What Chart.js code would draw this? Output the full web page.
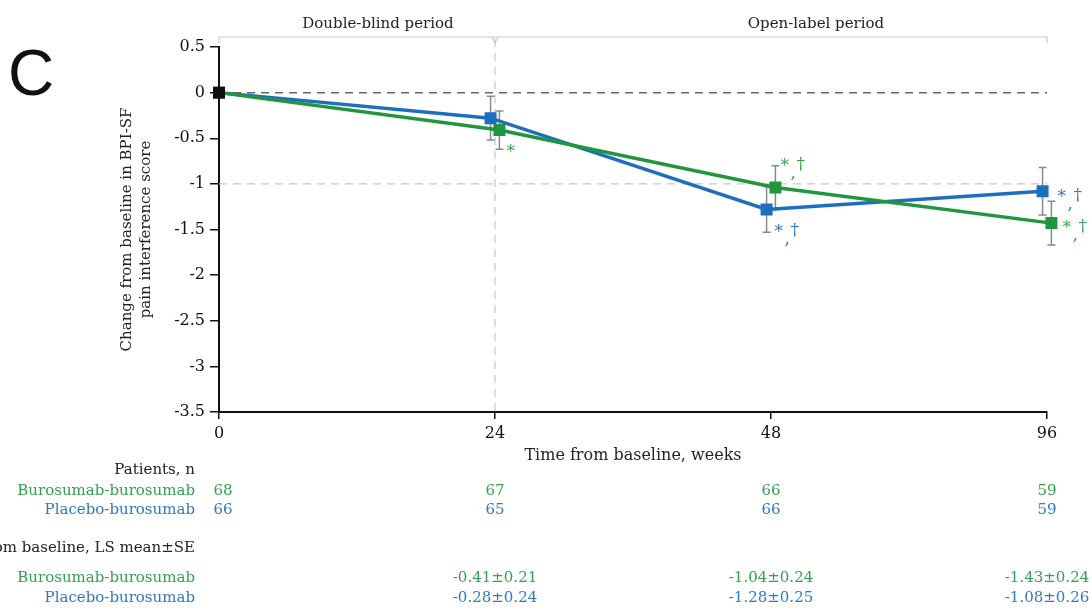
<!DOCTYPE html>
<html>
<head>
<meta charset="utf-8">
<script src="https://cdn.jsdelivr.net/npm/chart.js@4/dist/chart.umd.min.js"></script>
<style>
  html, body { margin: 0; padding: 0; background: #fff; }
  #wrap { position: relative; width: 1092px; height: 608px; }
</style>
</head>
<body>
<div id="wrap"><canvas id="painChart"></canvas></div>
<script>
'use strict';

// --- data ---
const WEEK_LABELS = ['0', '24', '48', '96'];
const BURO_MEAN = [0, -0.41, -1.04, -1.43];
const BURO_SE = [0, 0.21, 0.24, 0.24];
const PLAC_MEAN = [0, -0.28, -1.28, -1.08];
const PLAC_SE = [0, 0.24, 0.25, 0.26];
const BURO_N = [68, 67, 66, 59];
const PLAC_N = [66, 65, 66, 59];
const Y_MIN = -3.5;
const Y_MAX = 0.5;
const Y_STEP = 0.5;
const PERIODS = ['Double-blind period', 'Open-label period'];

const GREEN = 'rgb(34, 150, 62)';
const BLUE = 'rgb(30, 110, 190)';
const GREEN_TXT = 'rgb(52, 160, 80)';
const BLUE_TXT = 'rgb(48, 120, 192)';
const SERIF = '"DejaVu Serif", "Liberation Serif", serif';
const DODGE = 0.016;

function points(means, shift) {
    return means.map((m, i) => ({ x: i + (i ? shift : 0), y: m }));
}

// significance marks: [dataset index, point index, text, dx, dy]
const MARKS = [
    [0, 1, '*', 11, 21],
    [0, 2, '*,†', 9, -23],
    [1, 2, '*,†', 12, 21],
    [1, 3, '*,†', 19, 4],
    [0, 3, '*,†', 15, 3]
];

function drawMark(ctx, text, x, y, color) {
    ctx.fillStyle = color;
    ctx.font = '17px ' + SERIF;
    ctx.textAlign = 'left';
    ctx.textBaseline = 'middle';
    ctx.fillText('*', x - 4, y + 2);
    if (text === '*') return;
    ctx.fillText(',', x + 6, y + 9);
    ctx.fillText('†', x + 12, y);
}

const extras = {
    id: 'extras',
    beforeDatasetsDraw(chart) {
        const ctx = chart.ctx;
        const xs = chart.scales.x;
        const ys = chart.scales.y;
        const area = chart.chartArea;
        ctx.save();

        // reference lines
        ctx.setLineDash([8, 6]);
        ctx.lineWidth = 1.5;
        ctx.strokeStyle = '#666';
        ctx.beginPath();
        ctx.moveTo(area.left, ys.getPixelForValue(0));
        ctx.lineTo(area.right, ys.getPixelForValue(0));
        ctx.stroke();

        ctx.strokeStyle = '#c8c8c8';
        ctx.lineWidth = 1.2;
        ctx.beginPath();
        ctx.moveTo(area.left, ys.getPixelForValue(-1));
        ctx.lineTo(area.right, ys.getPixelForValue(-1));
        ctx.stroke();

        ctx.beginPath();
        ctx.moveTo(xs.getPixelForValue(1), area.top - 8);
        ctx.lineTo(xs.getPixelForValue(1), area.bottom);
        ctx.stroke();
        ctx.setLineDash([]);

        // error bars
        ctx.strokeStyle = '#8a8a8a';
        ctx.lineWidth = 1.5;
        const sets = [[0, BURO_MEAN, BURO_SE], [1, PLAC_MEAN, PLAC_SE]];
        sets.forEach(([di, means, ses]) => {
            const meta = chart.getDatasetMeta(di);
            meta.data.forEach((pt, i) => {
                if (!ses[i]) return;
                const x = pt.x;
                const y1 = ys.getPixelForValue(means[i] + ses[i]);
                const y2 = ys.getPixelForValue(means[i] - ses[i]);
                ctx.beginPath();
                ctx.moveTo(x, y1); ctx.lineTo(x, y2);
                ctx.moveTo(x - 4, y1); ctx.lineTo(x + 4, y1);
                ctx.moveTo(x - 4, y2); ctx.lineTo(x + 4, y2);
                ctx.stroke();
            });
        });
        ctx.restore();
    },
    afterDraw(chart) {
        const ctx = chart.ctx;
        const xs = chart.scales.x;
        const area = chart.chartArea;
        ctx.save();

        // panel letter
        ctx.fillStyle = '#111';
        ctx.font = '64px "Liberation Sans", Arial, sans-serif';
        ctx.textAlign = 'left';
        ctx.textBaseline = 'alphabetic';
        ctx.fillText('C', 8, 95);

        // period bracket
        const by = area.top - 10;
        const mid = xs.getPixelForValue(1);
        ctx.strokeStyle = '#c8c8c8';
        ctx.lineWidth = 1.2;
        ctx.beginPath();
        ctx.moveTo(area.left, by + 6); ctx.lineTo(area.left, by); ctx.lineTo(area.right, by); ctx.lineTo(area.right, by + 6);
        ctx.moveTo(mid - 3, by); ctx.lineTo(mid, by + 6); ctx.lineTo(mid + 3, by);
        ctx.stroke();

        ctx.fillStyle = '#222';
        ctx.font = '15px ' + SERIF;
        ctx.textAlign = 'center';
        ctx.textBaseline = 'middle';
        ctx.fillText(PERIODS[0], 378, 24);
        ctx.fillText(PERIODS[1], (mid + area.right) / 2 + 45, 24);

        // axis titles
        ctx.font = '16px ' + SERIF;
        ctx.fillText('Time from baseline, weeks', (area.left + area.right) / 2, 456);
        ctx.save();
        ctx.translate(127, (area.top + area.bottom) / 2);
        ctx.rotate(-Math.PI / 2);
        ctx.font = '15px ' + SERIF;
        ctx.fillText('Change from baseline in BPI-SF', 0, 0);
        ctx.fillText('pain interference score', 0, 19);
        ctx.restore();

        // significance marks
        MARKS.forEach(([di, pi, text, dx, dy]) => {
            const pt = chart.getDatasetMeta(di).data[pi];
            drawMark(ctx, text, pt.x + dx, pt.y + dy, di === 0 ? GREEN_TXT : BLUE_TXT);
        });

        // table under the plot
        ctx.font = '15px ' + SERIF;
        ctx.textBaseline = 'middle';
        ctx.textAlign = 'right';
        ctx.fillStyle = '#222';
        ctx.fillText('Patients, n', 195, 470);
        ctx.fillText('Change from baseline, LS mean±SE', 195, 548);
        ctx.fillStyle = GREEN_TXT;
        ctx.fillText('Burosumab-burosumab', 195, 491);
        ctx.fillText('Burosumab-burosumab', 195, 578);
        ctx.fillStyle = BLUE_TXT;
        ctx.fillText('Placebo-burosumab', 195, 510);
        ctx.fillText('Placebo-burosumab', 195, 598);

        ctx.textAlign = 'center';
        WEEK_LABELS.forEach((w, i) => {
            const x = i === 0 ? xs.getPixelForValue(0) + 4 : xs.getPixelForValue(i);
            ctx.fillStyle = GREEN_TXT;
            ctx.fillText(String(BURO_N[i]), x, 491);
            ctx.fillStyle = BLUE_TXT;
            ctx.fillText(String(PLAC_N[i]), x, 510);
            if (i > 0) {
                ctx.fillStyle = GREEN_TXT;
                ctx.fillText(BURO_MEAN[i].toFixed(2) + '±' + BURO_SE[i].toFixed(2), x, 578);
                ctx.fillStyle = BLUE_TXT;
                ctx.fillText(PLAC_MEAN[i].toFixed(2) + '±' + PLAC_SE[i].toFixed(2), x, 598);
            }
        });
        ctx.restore();
    }
};

const tickFont = { family: SERIF, size: 16 };

const ctx = document.getElementById('painChart').getContext('2d');
const painChart = new Chart(ctx, {
    type: 'line',
    data: {
        datasets: [
            {
                label: 'Burosumab-burosumab',
                data: points(BURO_MEAN, DODGE),
                borderColor: GREEN,
                backgroundColor: BURO_MEAN.map((_, i) => i ? GREEN : '#111'),
                pointBorderColor: BURO_MEAN.map((_, i) => i ? GREEN : '#111'),
                borderWidth: 3.5,
                pointStyle: 'rect',
                pointRadius: 6,
                tension: 0,
                clip: false
            },
            {
                label: 'Placebo-burosumab',
                data: points(PLAC_MEAN, -DODGE),
                borderColor: BLUE,
                backgroundColor: PLAC_MEAN.map((_, i) => i ? BLUE : '#111'),
                pointBorderColor: PLAC_MEAN.map((_, i) => i ? BLUE : '#111'),
                borderWidth: 3.5,
                pointStyle: 'rect',
                pointRadius: 6,
                tension: 0,
                clip: false
            }
        ]
    },
    options: {
        responsive: true,
        maintainAspectRatio: false,
        animation: false,
        layout: { padding: { top: 47, right: 45, bottom: 166, left: 0 } },
        plugins: { legend: { display: false }, tooltip: { enabled: false } },
        scales: {
            x: {
                type: 'linear',
                min: 0,
                max: WEEK_LABELS.length - 1,
                afterBuildTicks: (s) => { s.ticks = WEEK_LABELS.map((_, i) => ({ value: i })); },
                afterFit: (s) => { s.height = 30; },
                ticks: { callback: (v) => WEEK_LABELS[v], font: tickFont, color: '#111', padding: 5, maxRotation: 0 },
                grid: { drawOnChartArea: false, tickLength: 7, color: '#111', lineWidth: 1.5 },
                border: { color: '#111', width: 2 }
            },
            y: {
                min: Y_MIN,
                max: Y_MAX,
                afterFit: (s) => { s.width = 219; },
                ticks: { stepSize: Y_STEP, font: tickFont, color: '#111', padding: 5, callback: (v) => String(v) },
                grid: { drawOnChartArea: false, tickLength: 9, color: '#111', lineWidth: 1.5 },
                border: { color: '#111', width: 2 }
            }
        }
    },
    plugins: [extras]
});
</script>
</body>
</html>
